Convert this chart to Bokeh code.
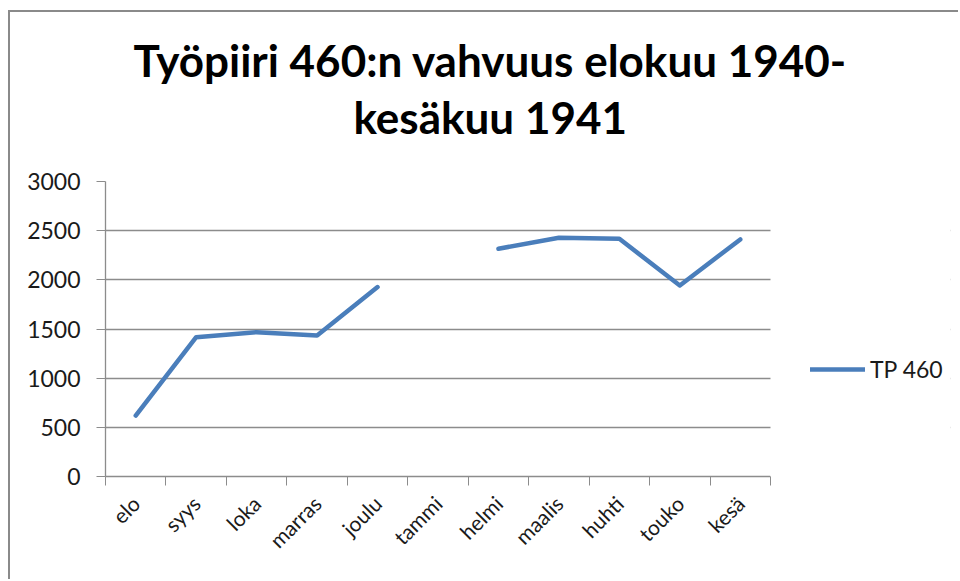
import math
from bokeh.plotting import figure
from bokeh.models import ColumnDataSource, FixedTicker, Legend, LegendItem, Title, Range1d, BoxAnnotation
from bokeh.embed import file_html
from bokeh.resources import INLINE

months = ["elo", "syys", "loka", "marras", "joulu", "tammi", "helmi", "maalis", "huhti", "touko", "kesä"]
tp460 = [620, 1417, 1468, 1434, 1926, float("nan"), 2316, 2428, 2417, 1943, 2411]
series_name = "TP 460"
title_lines = ["Työpiiri 460:n vahvuus elokuu 1940-", "kesäkuu 1941"]
y_ticks = [0, 500, 1000, 1500, 2000, 2500, 3000]

n = len(months)
xs = [i + 0.5 for i in range(n)]
src = ColumnDataSource(dict(x=xs, y=tp460))

FONT = "Lato"
GRAY = "#8c8c8c"

# layout (pixels)
W, H = 950, 569
BL, BT, BB, BR = 95, 169, 105, 10
plot_w = 665           # width used by the categories
frame_w = W - BL - BR  # frame extends to the right to host the legend
x_end = n * frame_w / plot_w

p = figure(width=W, height=H, output_backend="svg", toolbar_location=None,
           x_range=Range1d(0, x_end), y_range=Range1d(0, 3000),
           min_border_left=BL, min_border_right=BR, min_border_top=BT, min_border_bottom=BB)
p.styles = {"border-left": "2px solid #8a8a8a", "border-top": "2px solid #8a8a8a",
            "margin-left": "8px", "margin-top": "10px"}
p.title.visible = False

# titles: first added sits closest to the frame
for t, so, off in zip(reversed(title_lines), [77, -70], [248, 28]):
    p.add_layout(Title(text=t, text_font=FONT, text_font_size="44px", text_font_style="bold",
                       align="left", text_color="black", standoff=so, offset=off), "above")

r = p.line("x", "y", source=src, line_color="#4a7ebb", line_width=4.5, line_cap="round", line_join="round")

p.outline_line_color = None
p.background_fill_color = "white"
p.border_fill_color = "white"

p.xgrid.visible = False
p.ygrid.grid_line_color = GRAY
p.ygrid.grid_line_width = 1.3
p.ygrid.ticker = FixedTicker(ticks=y_ticks)

# blank out the area right of the plot area (legend zone)
p.add_layout(BoxAnnotation(left=n, fill_color="white", fill_alpha=1, line_color=None))

p.yaxis.ticker = FixedTicker(ticks=y_ticks)
p.yaxis.axis_line_color = GRAY
p.yaxis.axis_line_width = 1.3
p.yaxis.major_tick_line_color = GRAY
p.yaxis.major_tick_out = 9
p.yaxis.major_tick_in = 0
p.yaxis.minor_tick_line_color = None
p.yaxis.major_label_text_font = FONT
p.yaxis.major_label_text_font_size = "23px"
p.yaxis.major_label_text_color = "#1a1a1a"
p.yaxis.major_label_standoff = 16

p.xaxis.ticker = FixedTicker(ticks=xs, minor_ticks=list(range(n + 1)))
p.xaxis.major_label_overrides = {x: m for x, m in zip(xs, months)}
p.xaxis.bounds = (0, n)
p.xaxis.axis_line_color = GRAY
p.xaxis.axis_line_width = 1.3
p.xaxis.major_tick_line_color = None
p.xaxis.minor_tick_line_color = GRAY
p.xaxis.minor_tick_out = 9
p.xaxis.minor_tick_in = 0
p.xaxis.major_label_orientation = math.pi / 4
p.xaxis.major_label_text_font = FONT
p.xaxis.major_label_text_font_size = "21px"
p.xaxis.major_label_text_color = "#1a1a1a"
p.xaxis.major_label_standoff = 14

legend = Legend(items=[LegendItem(label=series_name, renderers=[r])],
                location=(705, 93), border_line_color=None, background_fill_alpha=0,
                glyph_width=55, label_text_font=FONT, label_text_font_size="23px",
                label_text_color="#1a1a1a", label_standoff=5, padding=0, margin=0)
p.add_layout(legend, "center")

open("out.html", "w").write(file_html(p, INLINE))
